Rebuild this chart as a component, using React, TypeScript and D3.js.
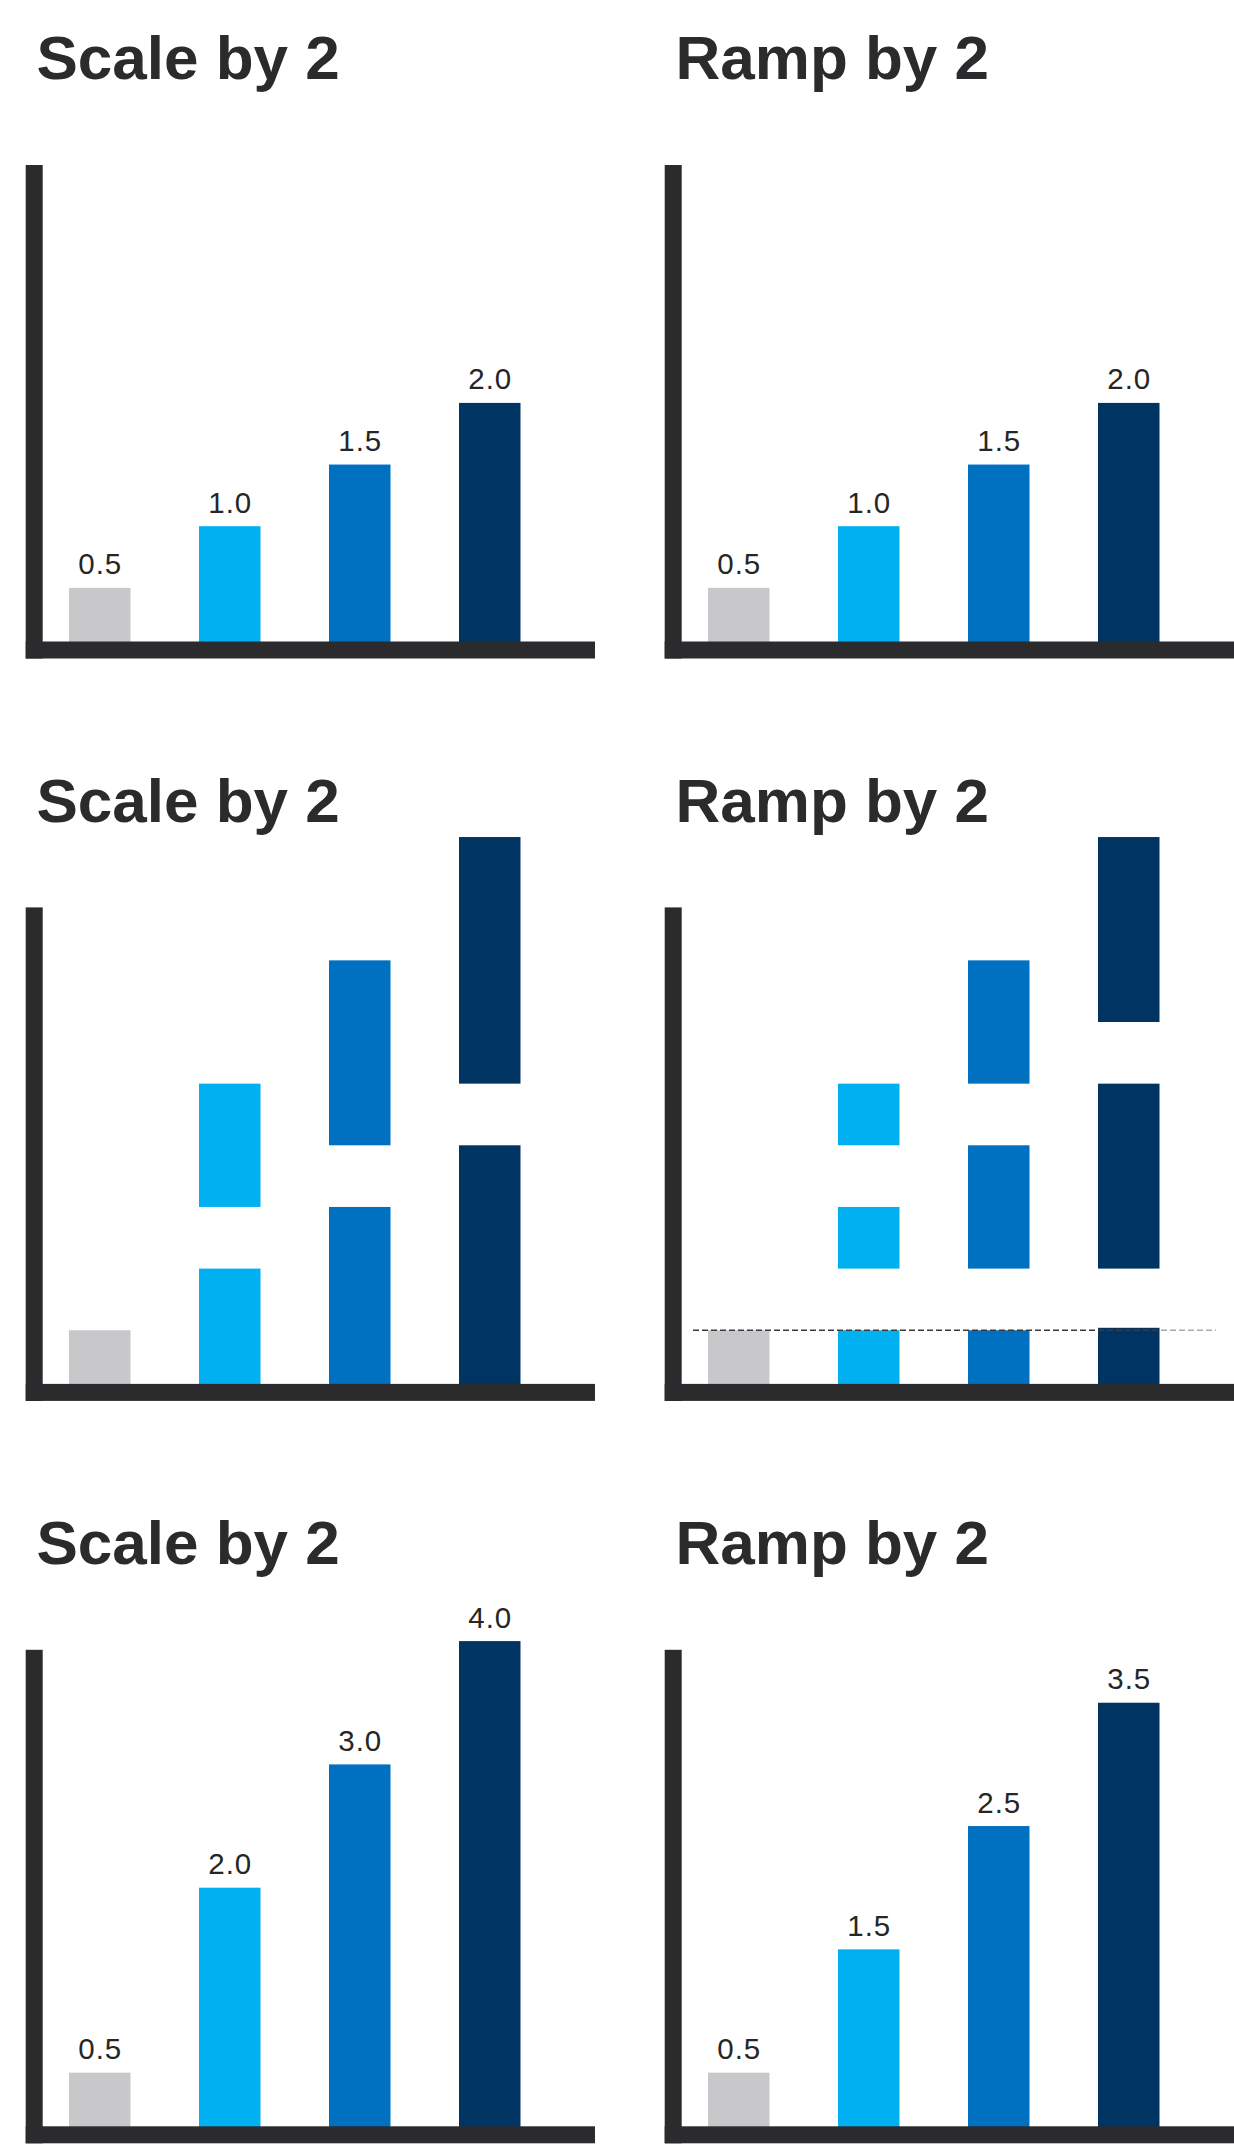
import React from "react";
import * as d3 from "d3";

// ---------- data ----------
const categories = ["base", "light", "mid", "dark"];
const colors = ["#c8c8ca", "#00b0f0", "#0070c0", "#003463"];
const titles = ["Scale by 2", "Ramp by 2", "Scale by 2", "Ramp by 2", "Scale by 2", "Ramp by 2"];

// row 1: original values (both panels)
const originalValues = [0.5, 1.0, 1.5, 2.0];
// row 2: decomposed segments [start, end]
const scaleSegments: number[][][] = [
  [[0, 0.5]],
  [[0, 1.0], [1.5, 2.5]],
  [[0, 1.5], [2.0, 3.5]],
  [[0, 2.0], [2.5, 4.5]],
];
const rampSegments: number[][][] = [
  [[0, 0.5]],
  [[0, 0.5], [1.0, 1.5], [2.0, 2.5]],
  [[0, 0.5], [1.0, 2.0], [2.5, 3.5]],
  [[0, 0.52], [1.0, 2.5], [3.0, 4.5]],
];
const referenceValue = 0.5;
// row 3: results
const scaledValues = [0.5, 2.0, 3.0, 4.0];
const rampedValues = [0.5, 1.5, 2.5, 3.5];

// ---------- layout ----------
const W = 1234;
const H = 2145;
const colStep = 639;
const rowStep = 742.4;
const baseline = 649.5;
const axisColor = "#2b2b2d";

const x = d3
  .scaleBand<string>()
  .domain(categories)
  .range([69, 69 + 3 * 130 + 61.5])
  .paddingInner(0.527)
  .paddingOuter(0);

const y = d3.scaleLinear().domain([0, 4.5]).range([baseline, baseline - 4.5 * 123.3]);

type Panel = {
  title: string;
  segments: number[][][];
  labels: (number | null)[];
  reference?: number;
};

const toSegs = (vals: number[]) => vals.map((v) => [[0, v]]);

const panels: Panel[] = [
  { title: titles[0], segments: toSegs(originalValues), labels: originalValues },
  { title: titles[1], segments: toSegs(originalValues), labels: originalValues },
  { title: titles[2], segments: scaleSegments, labels: [null, null, null, null] },
  { title: titles[3], segments: rampSegments, labels: [null, null, null, null], reference: referenceValue },
  { title: titles[4], segments: toSegs(scaledValues), labels: scaledValues },
  { title: titles[5], segments: toSegs(rampedValues), labels: rampedValues },
];

const fmt = d3.format(".1f");

function PanelView({ p, i }: { p: Panel; i: number }) {
  const col = i % 2;
  const row = Math.floor(i / 2);
  const bw = x.bandwidth();
  return (
    <g transform={`translate(${col * colStep},${row * rowStep})`}>
      <text
        x={36.5}
        y={79.4}
        fontFamily="'Liberation Sans', Arial, sans-serif"
        fontWeight="bold"
        fontSize={62}
        fill={axisColor}
      >
        {p.title}
      </text>
      {p.segments.map((segs, ci) =>
        segs.map((s, si) => (
          <rect
            key={`${ci}-${si}`}
            x={x(categories[ci])}
            y={y(s[1])}
            width={bw}
            height={y(s[0]) - y(s[1])}
            fill={colors[ci]}
          />
        ))
      )}
      {p.labels.map((v, ci) =>
        v == null ? null : (
          <text
            key={`l${ci}`}
            x={(x(categories[ci]) as number) + bw / 2 + 0.5}
            y={y(v) - 13.5}
            textAnchor="middle"
            fontFamily="'Liberation Sans', Arial, sans-serif"
            fontSize={29.5}
            letterSpacing={1}
            fill="#262626"
          >
            {fmt(v)}
          </text>
        )
      )}
      {p.reference != null && (
        <g>
          <line
            x1={54}
            x2={522}
            y1={y(p.reference)}
            y2={y(p.reference)}
            stroke="#3a3a3a"
            strokeWidth={1.3}
            strokeDasharray="6 3"
          />
          <line
            x1={522}
            x2={577}
            y1={y(p.reference)}
            y2={y(p.reference)}
            stroke="#a8a8a8"
            strokeWidth={1.3}
            strokeDasharray="6 3"
          />
        </g>
      )}
      {/* axes */}
      <rect x={25.7} y={165} width={17} height={658.5 - 165} fill={axisColor} />
      <rect x={25.7} y={641.5} width={595 - 25.7} height={17} fill={axisColor} />
    </g>
  );
}

export default function App() {
  return (
    <svg
      width={W}
      height={H}
      viewBox={`0 0 ${W} ${H}`}
      style={{ position: "absolute", left: 0, top: 0, background: "#fff" }}
    >
      <rect x={0} y={0} width={W} height={H} fill="#fff" />
      {panels.map((p, i) => (
        <PanelView key={i} p={p} i={i} />
      ))}
    </svg>
  );
}
